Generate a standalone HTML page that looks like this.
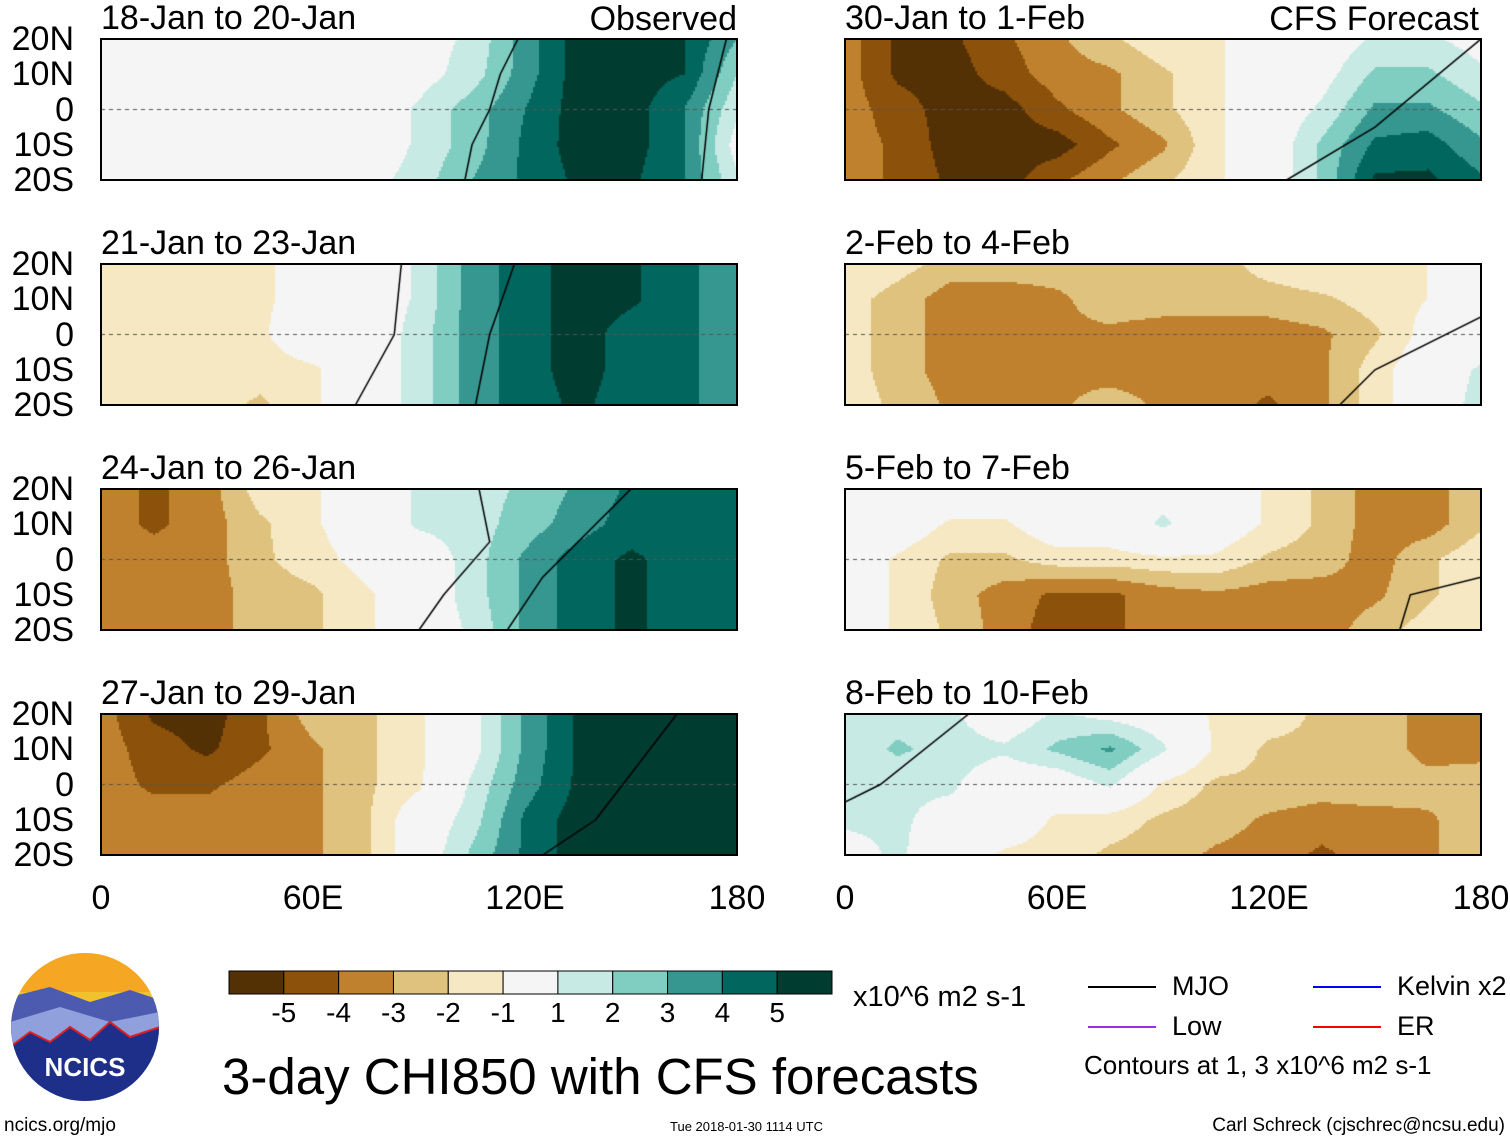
<!DOCTYPE html>
<html><head><meta charset="utf-8">
<style>
body{margin:0;background:#fff;width:1510px;height:1142px;position:relative;overflow:hidden;font-family:"Liberation Sans",Arial,sans-serif;}
.t{position:absolute;white-space:nowrap;color:#000;line-height:1;}
canvas{position:absolute;}
.frame{position:absolute;border:2px solid #000;box-sizing:border-box;}
</style></head><body>
<div id="root"></div>
<svg id="legend" style="position:absolute;left:0;top:0" width="1510" height="1142"></svg>
<script>
const lons=[0,15,30,45,60,75,90,105,120,135,150,165,180];
const lats=[20,10,0,-10,-20];
const titles=["18-Jan to 20-Jan","21-Jan to 23-Jan","24-Jan to 26-Jan","27-Jan to 29-Jan","30-Jan to 1-Feb","2-Feb to 4-Feb","5-Feb to 7-Feb","8-Feb to 10-Feb"];
const p1=[[0,0,-0.5,0,0,0,0.5,1.2,3.5,5.5,5.5,5,3],[0,-0.5,-0.5,0,0,0,0.5,1.5,3.5,5.5,5.5,5,2],[0,0,0,0,0,0,1.2,2.5,4,5.5,5.5,4,1.2],[0,0,0,0,0,0,1.2,2.5,4.2,5.5,5.5,4,0.5],[0,0,-0.5,0,0,0.5,1.5,3,4.2,5.2,5.2,4,1.2]];
const p2=[[-1.2,-1.2,-1.5,-1.2,-0.5,0,1.2,3.5,4.5,5.5,5.2,4.2,3.5],[-1.2,-1.5,-1.5,-1.2,-0.5,0,1.2,3.5,4.5,5.5,5.2,4.2,3.5],[-1.2,-1.5,-1.2,-1.2,0,0,1.5,3.5,4.5,5.5,4.5,4.2,3.5],[-1.2,-1.5,-1.5,-1.5,-1.2,0,1.5,3.5,4.5,5.5,4.5,4.2,3.5],[-1.2,-1.5,-1.5,-2.2,-1.2,0,1.5,3.5,4.5,5.2,4.5,4.2,3.5]];
const p3=[[-3.5,-4.2,-3.5,-1.5,-1.2,0,1.2,1.5,2.2,3.2,4.2,4.5,4.2],[-3.5,-4.2,-3.5,-2.2,-1.2,0,1.2,1.5,2.5,3.5,4.5,4.5,4.2],[-3.5,-3.5,-3.5,-2.2,-1.5,-0.5,0,1.5,3.2,4.5,5.2,4.5,4.2],[-3.5,-3.5,-3.5,-2.5,-2.2,-1.2,0,1.5,3.2,4.5,5.2,4.5,4.2],[-3.5,-3.5,-3.5,-2.5,-2.2,-1.2,0,1.2,3.2,4.5,5.2,4.5,4.2]];
const p4=[[-3.5,-5.2,-5.5,-4.2,-2.5,-2.2,-1.2,0.5,3.2,5.2,5.5,5.5,5.5],[-3.5,-4.5,-5.2,-4.2,-3.2,-2.2,-1.2,0.5,3.2,5.2,5.5,5.5,5.5],[-3.5,-4.2,-4.2,-3.5,-3.2,-2.2,-1.2,1.2,3.5,5.2,5.5,5.5,5.5],[-3.5,-3.5,-3.5,-3.5,-3.2,-2.2,0,1.5,4.2,5.5,5.5,5.5,5.5],[-3.5,-3.5,-3.5,-3.2,-3.2,-2.2,0,2.2,4.2,5.5,5.5,5.5,5.5]];
const p5=[[-3.5,-5.2,-5.2,-4.2,-3.2,-2.2,-1.2,-1.2,0,0,1.2,1.2,0.5],[-3.5,-5.2,-5.5,-4.5,-3.5,-3.2,-2.2,-1.2,0,0.5,2.2,2.2,1.2],[-3.5,-4.5,-5.5,-5.5,-4.2,-3.2,-2.2,-1.2,0,1.2,3.2,3.2,2.2],[-3.5,-4.2,-5.5,-5.5,-5.5,-4.2,-3.2,-1.2,0,2.2,4.2,4.5,3.2],[-3.5,-4.2,-5.2,-5.5,-4.2,-3.2,-2.2,-1.2,0,2.2,5.2,5.2,4.2]];
const p6=[[-1,-1.5,-2.5,-2.5,-2.5,-2.5,-2.5,-2.5,-1.5,-1,-1.5,-1,-0.5],[-1.5,-2.5,-3.5,-3.5,-3.2,-2.5,-2.5,-2.5,-2.5,-2.2,-1.5,-1,-0.5],[-1.5,-2.5,-3.5,-3.2,-3.2,-3.2,-3.5,-3.5,-3.5,-3.2,-2.2,-0.5,0],[-1.5,-2.5,-3.5,-3.5,-3.2,-3.5,-3.5,-3.5,-3.5,-3.2,-1.5,0,1.2],[-1.5,-2.2,-3.2,-3.5,-3.2,-2.5,-3.2,-3.5,-4.2,-3.2,-1.5,0,1.5]];
const p7=[[0,0,0,0,0,0,0.5,0,-1.2,-2.2,-3.5,-3.5,-2.2],[0,0,-1.2,-1.2,0,0,1.2,0,-1.2,-2.2,-3.5,-3.5,-2.2],[0,-1.2,-2.2,-2.2,-1.5,-1.5,-1.2,-1.2,-2.2,-2.5,-3.5,-2.2,-1.2],[0,-1.2,-2.5,-3.5,-4.2,-4.2,-3.5,-3.2,-3.5,-3.5,-3.2,-2.2,-1.2],[0,-1.2,-2.2,-3.5,-4.5,-4.2,-3.5,-3.2,-3.5,-3.5,-2.5,-1.5,-1.2]];
const p8=[[1.2,1.5,1.2,0,1.2,0.5,0,-1.2,-1.5,-2.2,-2.2,-3.5,-3.5],[1.2,2.2,1.5,1.2,2.2,3.2,1.2,-1.2,-2.2,-2.2,-2.2,-3.5,-3.5],[1.2,1.2,1.2,0,0,1.2,-1.2,-2.2,-2.2,-2.5,-2.2,-2.5,-2.2],[1.2,1.2,0.5,0,-1.2,-1.5,-2.2,-2.5,-3.2,-3.5,-3.5,-3.2,-2.2],[0.5,1.2,0,-1.2,-1.5,-2.2,-2.5,-3.2,-3.5,-4.2,-3.5,-3.2,-2.2]];
const fields=[p1,p2,p3,p4,p5,p6,p7,p8];
// MJO contour lines as [lon,lat] pairs per panel
const mjo1=[[[118,20],[113,10],[110,0],[105,-10],[103,-20]],[[177,20],[172,0],[170,-20]]];
const mjo2=[[[85,20],[83,0],[72,-20]],[[117,20],[110,0],[106,-20]]];
const mjo3=[[[107,20],[110,5],[97,-10],[90,-20]],[[150,20],[125,-5],[115,-20]]];
const mjo4=[[[163,20],[140,-10],[125,-20]]];
const mjo5=[[[180,20],[150,-5],[125,-20]]];
const mjo6=[[[180,5],[150,-10],[140,-20]]];
const mjo7=[[[180,-5],[160,-10],[157,-20]]];
const mjo8=[[[35,20],[10,0],[0,-5]]];
const mjoLines=[mjo1,mjo2,mjo3,mjo4,mjo5,mjo6,mjo7,mjo8];
const levels=[-5,-4,-3,-2,-1,1,2,3,4,5];
const colors=["#543005","#8c510a","#bf812d","#dfc27d","#f6e8c3","#f5f5f5","#c7eae5","#80cdc1","#35978f","#01665e","#003c30"];
const cbLabels=["-5","-4","-3","-2","-1","1","2","3","4","5"];
const latTicks=["20N","10N","0","10S","20S"];
const lonTicks=["0","60E","120E","180"];

const root=document.getElementById('root');
const PW=636,PH=141;
const colX=[101,845],rowY=[39,264,489,714];
function xScale(lon,x0){return x0+lon/180*PW;}
function yScale(lat,y0){return y0+(20-lat)/40*PH;}
function colorFor(v){v=Math.round(v*1000)/1000+0.0005;let i=0;while(i<levels.length&&v>=levels[i])i++;return colors[i];}
function sample(f,lon,lat){
  let fx=lon/15,fy=(20-lat)/10;
  let i=Math.min(Math.floor(fx),11),j=Math.min(Math.floor(fy),3);
  let tx=fx-i,ty=fy-j;
  return f[j][i]*(1-tx)*(1-ty)+f[j][i+1]*tx*(1-ty)+f[j+1][i]*(1-tx)*ty+f[j+1][i+1]*tx*ty;
}
function addText(txt,x,y,size,name,align){
  const d=document.createElement('div');d.className='t';d.textContent=txt;
  d.style.fontSize=size+'px';d.style.top=y+'px';
  if(align==='right'){d.style.right=(1510-x)+'px';}else if(align==='center'){d.style.left=x+'px';d.style.transform='translateX(-50%)';}else d.style.left=x+'px';
  
  
  root.appendChild(d);return d;
}
for(let p=0;p<8;p++){
  const x0=colX[p<4?0:1],y0=rowY[p%4];
  const c=document.createElement('canvas');c.width=PW;c.height=PH;c.style.left=x0+'px';c.style.top=y0+'px';
  
  
  root.appendChild(c);
  const ctx=c.getContext('2d');const f=fields[p];
  for(let px=0;px<PW;px+=2){for(let py=0;py<PH;py+=2){
    const lon=(px+1)/PW*180,lat=20-(py+1)/PH*40;
    ctx.fillStyle=colorFor(sample(f,lon,lat));ctx.fillRect(px,py,2,2);
  }}
  ctx.setLineDash([4,4]);ctx.strokeStyle='#555';ctx.lineWidth=1;
  const ey=yScale(0,0);ctx.beginPath();ctx.moveTo(0,ey);ctx.lineTo(PW,ey);ctx.stroke();
  ctx.setLineDash([]);ctx.strokeStyle='#000';ctx.lineWidth=1.5;
  mjoLines[p].forEach(line=>{ctx.beginPath();line.forEach((pt,k)=>{const X=xScale(pt[0],0),Y=yScale(pt[1],0);if(k)ctx.lineTo(X,Y);else ctx.moveTo(X,Y);});ctx.stroke();});
  const fr=document.createElement('div');fr.className='frame';
  fr.style.left=(x0-1)+'px';fr.style.top=(y0-1)+'px';fr.style.width=(PW+2)+'px';fr.style.height=(PH+2)+'px';
  
  
  root.appendChild(fr);
  addText(titles[p],x0,y0-38,34,'panel-title-'+(p+1));
  if(p<4){latTicks.forEach((l,k)=>addText(l,74,yScale(lats[k],y0)-17,34,'lat-label','right'));}
}
addText("Observed",737,2,34,'observed-label','right');
addText("CFS Forecast",1479,2,34,'cfs-forecast-label','right');
[0,1].forEach(c=>lonTicks.forEach((l,k)=>addText(l,xScale(k*60,colX[c]),881,34,'lon-label','center')));
const svg=document.getElementById('legend');const NS='http://www.w3.org/2000/svg';
const cbX=229,cbW=603,cbY=971,cbH=23;const bw=cbW/colors.length;
colors.forEach((col,i)=>{const r=document.createElementNS(NS,'rect');
 r.setAttribute('x',cbX+i*bw);r.setAttribute('y',cbY);r.setAttribute('width',bw);r.setAttribute('height',cbH);
 r.setAttribute('fill',col);r.setAttribute('stroke','#000');r.setAttribute('stroke-width','1');
 
 
 svg.appendChild(r);});
cbLabels.forEach((l,i)=>addText(l,cbX+(i+1)*bw,999,28,'colorbar-label','center'));
addText("x10^6 m2 s-1",853,983,29,'units-label');
const leg=[["MJO","#000",1088,987],["Low","#9b30e0",1088,1027],["Kelvin x2","#0000ff",1313,987],["ER","#ff0000",1313,1027]];
leg.forEach(L=>{const ln=document.createElementNS(NS,'line');
 ln.setAttribute('x1',L[2]);ln.setAttribute('x2',L[2]+68);ln.setAttribute('y1',L[3]);ln.setAttribute('y2',L[3]);
 ln.setAttribute('stroke',L[1]);ln.setAttribute('stroke-width','2');
 
 
 svg.appendChild(ln);
 addText(L[0],L[2]+84,L[3]-14,27,'legend-entry');});
addText("Contours at 1, 3 x10^6 m2 s-1",1084,1052,26,'contour-note');
addText("3-day CHI850 with CFS forecasts",222,1051,51,'main-title');
addText("ncics.org/mjo",4,1116,19,'url-label');
addText("Tue 2018-01-30 1114 UTC",670,1120,13,'timestamp');
addText("Carl Schreck (cjschrec@ncsu.edu)",1505,1116,19,'author','right');
</script>
<svg style="position:absolute;left:10px;top:952px" width="150" height="150">
<defs><clipPath id="cl"><circle cx="75" cy="75" r="74"/></clipPath></defs>
<g clip-path="url(#cl)">
<rect width="150" height="150" fill="#f2c12e"/>
<rect y="0" width="150" height="40" fill="#f5a623"/>
<path d="M0 45 L40 35 L80 50 L120 38 L150 48 L150 150 L0 150Z" fill="#4c5bb0"/>
<path d="M0 70 L50 55 L100 70 L150 60 L150 150 L0 150Z" fill="#8fa0dd"/>
<path d="M0 95 L20 80 L40 90 L60 75 L80 88 L100 70 L120 85 L150 75 L150 150 L0 150Z" fill="#1e2f8a" stroke="#e02020" stroke-width="2"/>
</g>
<text x="75" y="124" text-anchor="middle" font-family="Liberation Sans" font-weight="bold" font-size="26" fill="#fff">NCICS</text>
</svg>
</body></html>
